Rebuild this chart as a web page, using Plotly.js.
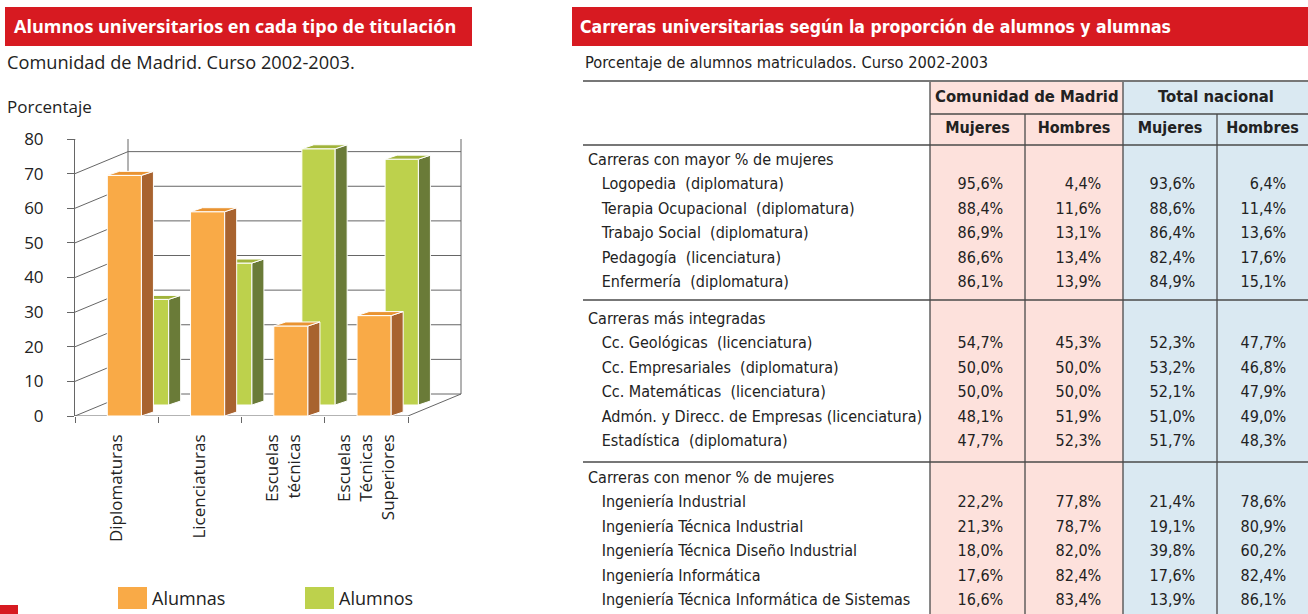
<!DOCTYPE html>
<html>
<head>
<meta charset="utf-8">
<script src="https://cdn.plot.ly/plotly-3.0.1.min.js"></script>
<style>
body { margin: 0; background: #fff; }
#grafico { width: 1308px; height: 614px; }
</style>
</head>
<body>
<div id="grafico"></div>
<script>
// --- datos del grafico de barras ---
let tipos = ["Diplomaturas", "Licenciaturas", "Escuelas<br>técnicas", "Escuelas<br>Técnicas<br>Superiores"];
let alumnas = [69.5, 59, 26, 29];
let alumnos = [30.5, 41, 74, 71];
let ticksY = [0, 10, 20, 30, 40, 50, 60, 70, 80];

// --- datos de la tabla ---
let grupos = ["Carreras con mayor % de mujeres", "Carreras más integradas", "Carreras con menor % de mujeres"];
let carreras = [
  "Logopedia  (diplomatura)", "Terapia Ocupacional  (diplomatura)", "Trabajo Social  (diplomatura)",
  "Pedagogía  (licenciatura)", "Enfermería  (diplomatura)",
  "Cc. Geológicas  (licenciatura)", "Cc. Empresariales  (diplomatura)", "Cc. Matemáticas  (licenciatura)",
  "Admón. y Direcc. de Empresas (licenciatura)", "Estadística  (diplomatura)",
  "Ingeniería Industrial", "Ingeniería Técnica Industrial", "Ingeniería Técnica Diseño Industrial",
  "Ingeniería Informática", "Ingeniería Técnica Informática de Sistemas"
];
let madridMujeres = [95.6, 88.4, 86.9, 86.6, 86.1, 54.7, 50.0, 50.0, 48.1, 47.7, 22.2, 21.3, 18.0, 17.6, 16.6];
let madridHombres = [4.4, 11.6, 13.1, 13.4, 13.9, 45.3, 50.0, 50.0, 51.9, 52.3, 77.8, 78.7, 82.0, 82.4, 83.4];
let nacionalMujeres = [93.6, 88.6, 86.4, 82.4, 84.9, 52.3, 53.2, 52.1, 51.0, 51.7, 21.4, 19.1, 39.8, 17.6, 13.9];
let nacionalHombres = [6.4, 11.4, 13.6, 17.6, 15.1, 47.7, 46.8, 47.9, 49.0, 48.3, 78.6, 80.9, 60.2, 82.4, 86.1];

// colores
let rojo = "#d71a21";
let rosa = "#fde1dc";
let azul = "#dae9f2";
let naranja = {frente: "#f9aa47", lado: "#a8632f", arriba: "#e99331"};
let verde = {frente: "#bdd14c", lado: "#6a7b38", arriba: "#a0b33a"};
let gris = "#666";

// geometria (pixeles de la pagina)
let W = 1308, H = 614;
let px = x => x / W;
let py = y => 1 - y / H;
let pxX = 333 / 4;      // pixeles por categoria
let pxY = 277 / 80;     // pixeles por punto porcentual
let fondo = {dx: 53, dy: 22};   // profundidad de las paredes
let prof = {dx: 12, dy: 4};     // profundidad de cada barra

let offNar = -0.112, anchoNar = 0.41;
let offVer = 0.225, anchoVer = 0.40;
let baseVer = 11 / pxY;

// caras laterales y superiores de las barras
function caras(vals, off, ancho, base, tapa) {
  let lado = {x: [], y: []}, arriba = {x: [], y: []};
  let ddx = prof.dx / pxX, ddy = prof.dy / pxY;
  vals.forEach((v, i) => {
    let L = i + off, R = L + ancho, b = base, t = base + v;
    lado.x.push(R, R, R + ddx, R + ddx, R, null);
    lado.y.push(b, t, t + ddy, b + ddy, b, null);
    if (tapa && tapa[i] > t) L = Math.max(L, i + offNar + anchoNar);
    arriba.x.push(L, R, R + ddx, L + ddx, L, null);
    arriba.y.push(t, t, t + ddy, t + ddy, t, null);
  });
  return {lado, arriba};
}

let carasVer = caras(alumnos, offVer, anchoVer, baseVer, alumnas);
let carasNar = caras(alumnas, offNar, anchoNar, 0, null);

function poligono(c, color) {
  return {x: c.x, y: c.y, type: "scatter", mode: "lines", fill: "toself", fillcolor: color,
    line: {color: "white", width: 1}, hoverinfo: "skip", showlegend: false};
}

let posiciones = tipos.map((t, i) => i);

let traceVerde = {
  x: posiciones, y: alumnos, base: baseVer, type: "bar", name: "Alumnos",
  offset: offVer, width: anchoVer,
  marker: {color: verde.frente, line: {color: "white", width: 1}}, showlegend: false
};
let traceNaranja = {
  x: posiciones, y: alumnas, type: "bar", name: "Alumnas",
  offset: offNar, width: anchoNar,
  marker: {color: naranja.frente, line: {color: "white", width: 1}}, showlegend: false
};

// --- tablas (una por grupo de carreras) ---
let fmt = (v, relleno) => v.toFixed(1).replace(".", ",") + "%" + relleno;
let nb = s => s.replace(/ /g, "\u00a0");
let fuenteEstrecha = "Liberation Sans Narrow, Arial Narrow, DejaVu Sans Condensed, sans-serif";
let coloresCol = ["white", rosa, rosa, azul, azul];
let anchos = [350, 95, 98, 94, 91];
let limites = [[110, 304], [304, 463], [463, 614]];
let letraTabla = {family: fuenteEstrecha, size: 16, color: "#222"};

let tablas = grupos.map((g, k) => {
  let colTexto = [], colMM = [], colMH = [], colNM = [], colNH = [];
  for (let i = k * 5; i < k * 5 + 5; i++) {
    colTexto.push("\u00a0\u00a0\u00a0" + nb(carreras[i]));
    colMM.push(fmt(madridMujeres[i], "\u00a0\u00a0\u00a0"));
    colMH.push(fmt(madridHombres[i], "\u00a0\u00a0\u00a0"));
    colNM.push(fmt(nacionalMujeres[i], "\u00a0\u00a0\u00a0"));
    colNH.push(fmt(nacionalHombres[i], "\u00a0\u00a0\u00a0"));
  }
  let cabecera = {
    values: [g, "", "", "", ""], align: "left", height: 24.4,
    fill: {color: coloresCol}, line: {color: coloresCol, width: 1}, font: letraTabla
  };
  if (k === 0) {
    // primera tabla: la fila Mujeres / Hombres va en la cabecera
    colTexto.unshift(g); colMM.unshift(""); colMH.unshift(""); colNM.unshift(""); colNH.unshift("");
    cabecera = {
      values: ["", "<b>Mujeres</b>", "<b>Hombres</b>", "<b>Mujeres</b>", "<b>Hombres</b>"],
      align: "center", height: 30,
      fill: {color: coloresCol}, line: {color: coloresCol, width: 1}, font: letraTabla
    };
  }
  return {
    type: "table",
    domain: {x: [px(580), 1], y: [py(limites[k][1]), py(limites[k][0])]},
    columnwidth: anchos,
    header: cabecera,
    cells: {
      values: [colTexto, colMM, colMH, colNM, colNH],
      align: ["left", "right", "right", "right", "right"], height: 24.4,
      fill: {color: coloresCol}, line: {color: coloresCol, width: 1}, font: letraTabla
    }
  };
});

let data = [traceVerde, traceNaranja,
  poligono(carasVer.lado, verde.lado), poligono(carasVer.arriba, verde.arriba),
  poligono(carasNar.lado, naranja.lado), poligono(carasNar.arriba, naranja.arriba)].concat(tablas);

// --- formas: paredes 3D, cabeceras, lineas de tabla, leyenda ---
let shapes = [];
let linea = (xa, ya, x0, y0, x1, y1) => ({
  type: "line", xref: "x", yref: "y", xsizemode: "pixel", ysizemode: "pixel",
  xanchor: xa, yanchor: ya, x0: x0, y0: y0, x1: x1, y1: y1,
  line: {color: gris, width: 1}, layer: "below"
});
ticksY.forEach(v => {
  shapes.push(linea(-0.5, v, 0, 0, fondo.dx, fondo.dy));
  shapes.push(linea(-0.5, v, fondo.dx, fondo.dy, fondo.dx + 333, fondo.dy));
});
shapes.push(linea(-0.5, 0, fondo.dx, fondo.dy, fondo.dx, fondo.dy + 277));
shapes.push(linea(-0.5, 0, 0, 0, 333, 0));
shapes.push(linea(3.5, 0, 0, 0, fondo.dx, fondo.dy));
shapes.push(linea(3.5, 0, fondo.dx, fondo.dy, fondo.dx, fondo.dy + 277));

let rect = (x0, y0, x1, y1, color) => ({
  type: "rect", xref: "paper", yref: "paper", x0: px(x0), x1: px(x1), y0: py(y1), y1: py(y0),
  fillcolor: color, line: {width: 0}, layer: "below"
});
shapes.push(rect(5, 7, 472, 46, rojo));
shapes.push(rect(572, 7, 1308, 46, rojo));
shapes.push(rect(0, 605, 18, 614, rojo));
shapes.push(rect(930, 82, 1123, 614, rosa));
shapes.push(rect(1123, 82, 1308, 614, azul));
shapes.push(rect(118, 587, 147, 609, naranja.frente));
shapes.push(rect(305, 587, 334, 609, verde.frente));

let raya = (x0, y0, x1, y1) => ({
  type: "line", xref: "paper", yref: "paper", x0: px(x0), x1: px(x1), y0: py(y0), y1: py(y1),
  line: {color: "#4a4a4a", width: 1.3}, layer: "above"
});
[81, 145, 300, 462].forEach(y => shapes.push(raya(583, y, 1308, y)));
shapes.push(raya(930, 114, 1308, 114));
shapes.push(raya(930, 82, 930, 614));
shapes.push(raya(1025, 114, 1025, 614));
shapes.push(raya(1123, 82, 1123, 614));
shapes.push(raya(1217, 114, 1217, 614));

let fuente = "Open Sans, Noto Sans, sans-serif";
let texto = (t, x, y, f, extra) => Object.assign({
  text: t, xref: "paper", yref: "paper", x: px(x), y: py(y),
  xanchor: "left", yanchor: "middle", showarrow: false, font: f
}, extra || {});

let annotations = [
  texto("Alumnos universitarios en cada tipo de titulación", 12, 26,
    {family: fuente, size: 18, color: "white", weight: 700}),
  texto("Comunidad de Madrid. Curso 2002-2003.", 5, 62, {family: fuente, size: 18.2, color: "#222"}),
  texto("Porcentaje", 5, 107, {family: fuente, size: 17, color: "#222"}),
  texto("Alumnas", 150, 598, {family: fuente, size: 18, color: "#222"}),
  texto("Alumnos", 337, 598, {family: fuente, size: 18, color: "#222"}),
  texto("Carreras universitarias según la proporción de alumnos y alumnas", 578, 27,
    {family: fuenteEstrecha, size: 17.5, color: "white", weight: 700}),
  texto("Porcentaje de alumnos matriculados. Curso 2002-2003", 583, 62,
    {family: fuenteEstrecha, size: 16.3, color: "#222"}),
  texto("<b>Comunidad de Madrid</b>", 1026.5, 97, {family: fuenteEstrecha, size: 16.5, color: "#222"}, {xanchor: "center"}),
  texto("<b>Total nacional</b>", 1215.5, 97, {family: fuenteEstrecha, size: 16.5, color: "#222"}, {xanchor: "center"})
];

let layout = {
  width: W, height: H,
  margin: {l: 0, r: 0, t: 0, b: 0},
  paper_bgcolor: "white", plot_bgcolor: "rgba(0,0,0,0)",
  barmode: "overlay",
  showlegend: false,
  xaxis: {
    domain: [px(75), px(480)], range: [-0.5, -0.5 + 405 / pxX],
    tickvals: posiciones, ticktext: tipos, tickangle: -90, ticks: "",
    ticklabelstandoff: 14,
    tickfont: {family: fuente, size: 17, color: "#222"},
    showline: false, showgrid: false, zeroline: false,
    minor: {tickvals: [-0.5, 0.5, 1.5, 2.5, 3.5], ticks: "outside", ticklen: 6, tickcolor: gris, showgrid: false},
    fixedrange: true
  },
  yaxis: {
    domain: [py(416), py(139)], range: [0, 80],
    tickvals: ticksY, ticks: "outside", ticklen: 7, tickcolor: gris,
    ticklabelstandoff: 20,
    tickfont: {family: fuente, size: 17, color: "#222"},
    showline: true, linecolor: gris, linewidth: 1, showgrid: false, zeroline: false,
    fixedrange: true
  },
  shapes: shapes,
  annotations: annotations
};

Plotly.newPlot("grafico", data, layout, {displayModeBar: false, staticPlot: true});
</script>
</body>
</html>
